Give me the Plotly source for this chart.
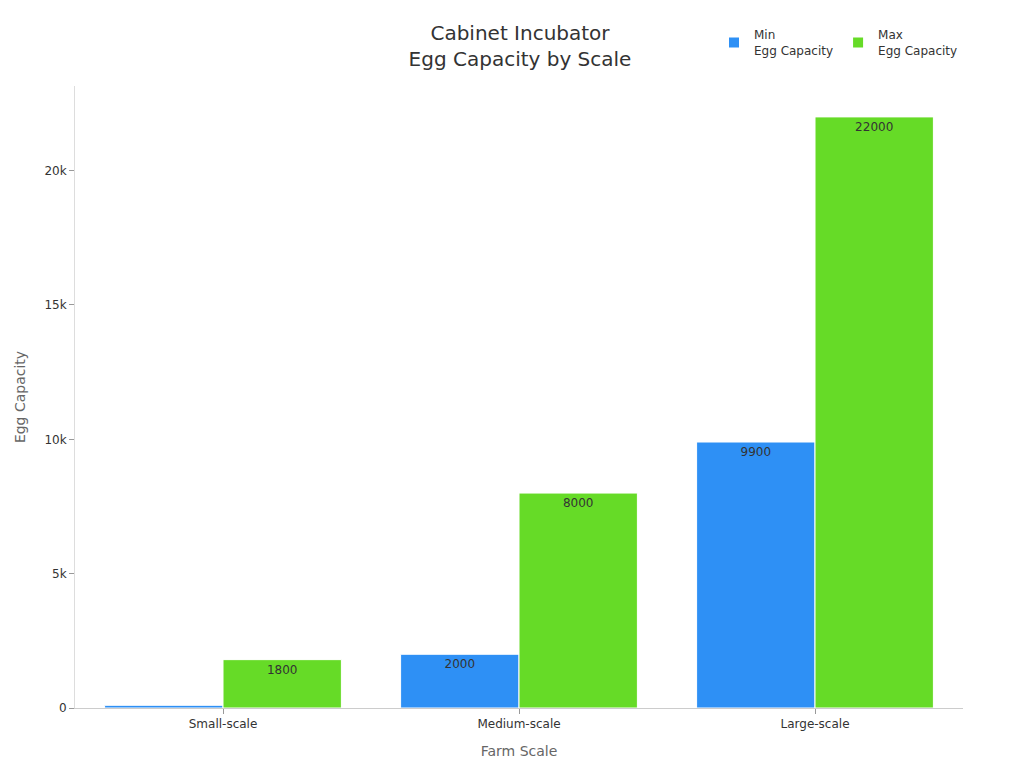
import plotly.graph_objects as go

categories = ["Small-scale", "Medium-scale", "Large-scale"]
min_capacity = [100, 2000, 9900]
max_capacity = [1800, 8000, 22000]

font = "DejaVu Sans"
fig = go.Figure()
fig.add_trace(go.Bar(x=categories, y=min_capacity, name="Min<br>Egg Capacity",
                     marker=dict(color="#2e90f5", line=dict(color="white", width=1)),
                     text=min_capacity, textposition=["none", "inside", "inside"],
                     insidetextanchor="end", textangle=0,
                     textfont=dict(color="#333", size=12, family=font)))
fig.add_trace(go.Bar(x=categories, y=max_capacity, name="Max<br>Egg Capacity",
                     marker=dict(color="#66db27", line=dict(color="white", width=1)),
                     text=max_capacity, textposition="inside",
                     insidetextanchor="end", textangle=0,
                     textfont=dict(color="#333", size=12, family=font)))
fig.update_layout(
    width=1024, height=768, barmode="group", bargap=0.2, bargroupgap=0,
    paper_bgcolor="white", plot_bgcolor="white",
    font=dict(family=font, size=12, color="#333"),
    title=dict(text="Cabinet Incubator<br>Egg Capacity by Scale", x=0.5, xanchor="center",
               y=0.958, yanchor="top", font=dict(size=20, color="#333")),
    margin=dict(l=59, r=69, t=72, b=68),
    legend=dict(orientation="h", x=1.0, xanchor="right", y=1.033, yanchor="bottom",
                font=dict(size=12), itemsizing="constant"),
    xaxis=dict(title=dict(text="Farm Scale", font=dict(size=14, color="#666")),
               showline=True, linecolor="#ccc", ticks="outside", ticklen=5, tickcolor="#999"),
    yaxis=dict(title=dict(text="Egg Capacity", font=dict(size=14, color="#666")),
               range=[0, 23150], showgrid=False, zeroline=False, showline=True,
               linecolor="#ddd", ticks="outside", ticklen=5, tickcolor="#999",
               dtick=5000),
    uniformtext=dict(mode="hide", minsize=10),
)
fig.write_html("out.html")
